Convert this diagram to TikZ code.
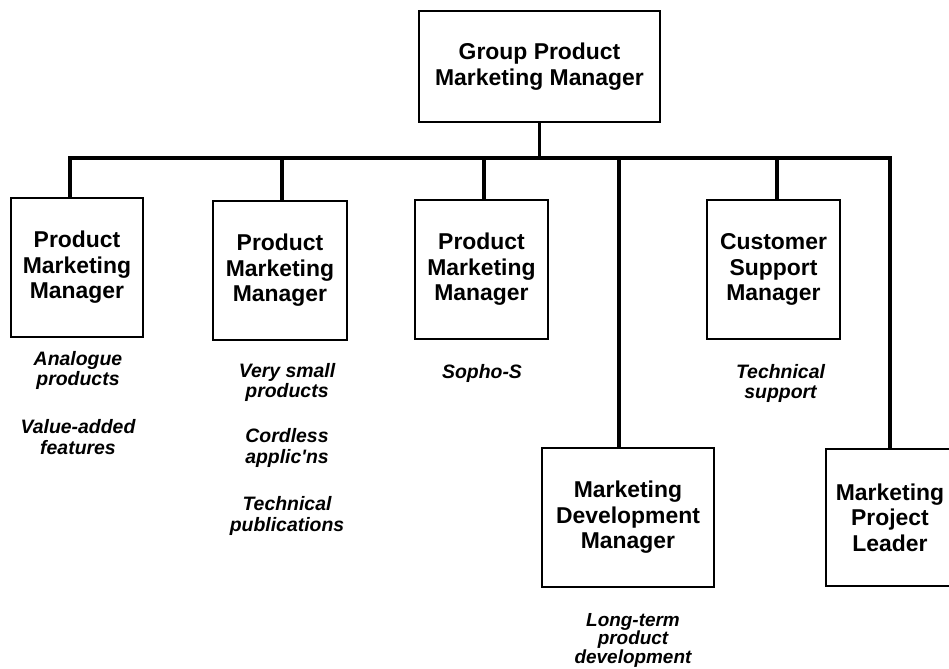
\documentclass[tikz,border=0pt]{standalone}
\usepackage{fontspec}
\setmainfont{Liberation Sans}
\usetikzlibrary{positioning}
\tikzset{%
  % Specifications for style of nodes:
          base/.style = {rectangle, draw=black, line width=1.8bp, fill=white,
                         minimum height=139bp, align=center,
                         font=\bfseries\fontsize{23}{25.5}\selectfont},
       manager/.style = {base, minimum width=133bp},
       topboss/.style = {base, minimum width=241bp, minimum height=111bp},
         remit/.style = {inner sep=0pt, align=center,
                         font=\bfseries\itshape\fontsize{19.5}{20.5}\selectfont},
          link/.style = {line width=3.5bp},
}

\begin{document}
\begin{tikzpicture}[node distance=202bp]
  \useasboundingbox (0,0) rectangle (949bp,-669bp);
  % Specification of nodes (position, etc.)
  \node (group) [topboss] at (539.5bp,-66.5bp)
                {Group Product\\Marketing Manager};
  \node (pmmA)  [manager, minimum width=132bp, below of=group, xshift=-462.5bp, yshift=1bp]
                {Product\\Marketing\\Manager};
  \node (pmmB)  [manager, minimum width=134bp, below of=group, xshift=-259.5bp, yshift=-2bp]
                {Product\\Marketing\\Manager};
  \node (pmmC)  [manager, below of=group, xshift=-58bp, yshift=-1bp]
                {Product\\Marketing\\Manager};
  \node (csm)   [manager, below of=group, xshift=234bp, yshift=-1bp]
                {Customer\\Support\\Manager};
  \node (mdm)   [base, minimum width=172bp, below of=group, xshift=88.5bp, yshift=-249bp]
                {Marketing\\Development\\Manager};
  \node (mpl)   [base, minimum width=128bp, minimum height=137bp,
                 below of=group, xshift=350.5bp, yshift=-249bp]
                {Marketing\\Project\\Leader};

  % what each of them looks after
  \node (remA) [remit, below=13bp of pmmA, xshift=1bp]
               {Analogue\\products\\[28pt]Value-added\\features};
  \node (remB) [remit, below=22bp of pmmB, xshift=7bp]
               {Very small\\products\\[25pt]Cordless\\applic\textquotesingle ns\\[27pt]Technical\\publications};
  \node (remC) [remit, below=24bp of pmmC, xshift=0.5bp] {Sopho-S};
  \node (remD) [remit, below=24bp of csm, xshift=7bp] {Technical\\support};
  \node (remE) [remit, below=25bp of mdm, xshift=5bp,
                font=\bfseries\itshape\fontsize{19}{17.5}\selectfont]
               {Long-term\\product\\development};

  % Specification of lines between nodes specified above
  \coordinate (bus) at ([yshift=-35bp]group.south);
  \draw[link] (group.south) -- (bus);
  \draw[link] ([xshift=-7bp]pmmA.north) |- (bus);
  \draw[link] ([xshift=2bp]pmmB.north) |- (bus);
  \draw[link] ([xshift=2.5bp]pmmC.north) |- (bus);
  \draw[link] ([xshift=3.5bp]csm.north) |- (bus);
  \draw[link] ([xshift=-9bp]mdm.north) |- (bus);
  \draw[link] (mpl.north) |- (bus);
\end{tikzpicture}
\end{document}
